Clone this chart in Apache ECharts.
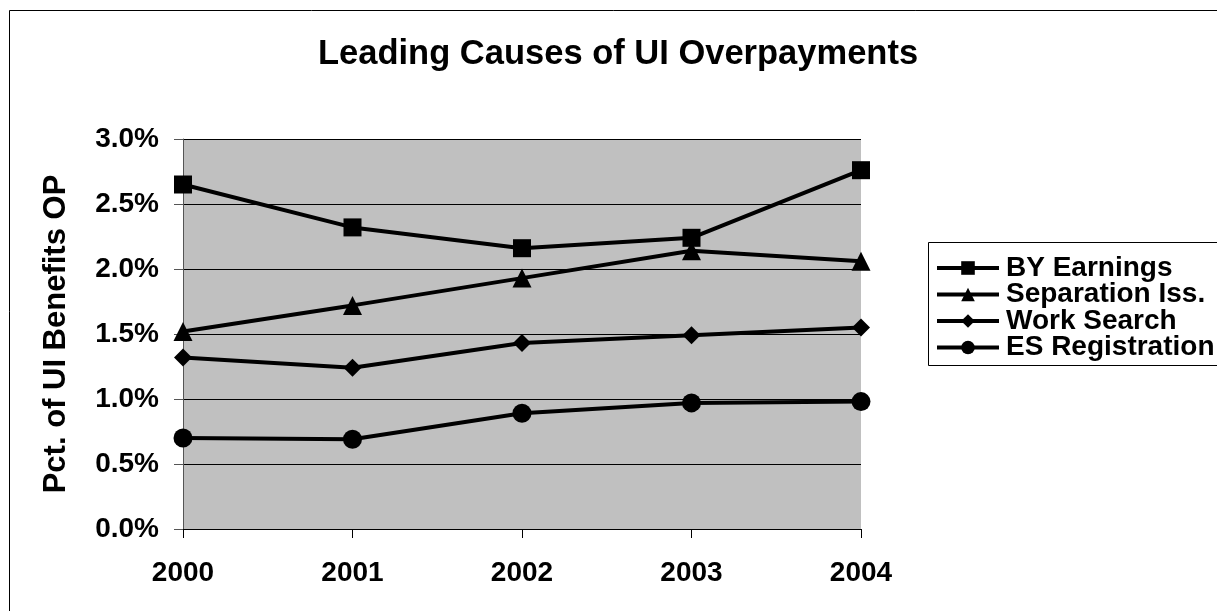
<!DOCTYPE html>
<html>
<head>
<meta charset="utf-8">
<script src="https://cdn.jsdelivr.net/npm/echarts@6/dist/echarts.min.js"></script>
<style>
html,body{margin:0;padding:0;background:#fff;}
#c{width:1217px;height:611px;}
</style>
</head>
<body>
<div id="c"></div>
<script>
var years = ['2000','2001','2002','2003','2004'];
var byEarnings = [2.65, 2.32, 2.16, 2.24, 2.76];
var separationIss = [1.52, 1.72, 1.93, 2.14, 2.06];
var workSearch = [1.32, 1.24, 1.43, 1.49, 1.55];
var esRegistration = [0.70, 0.69, 0.89, 0.97, 0.98];
var seriesNames = ['BY Earnings','Separation Iss.','Work Search','ES Registration'];
var yTicks = {min: 0, max: 3, interval: 0.5};

var FONT = 'Liberation Sans, Arial, sans-serif';
var chart = echarts.init(document.getElementById('c'));

function mk(name, data, symbol, size) {
  return {
    name: name, type: 'line', data: data,
    symbol: symbol, symbolSize: size, showSymbol: true,
    lineStyle: {color: '#000', width: 4},
    itemStyle: {color: '#000'},
    emphasis: {disabled: true},
    animation: false
  };
}

chart.setOption({
  animation: false,
  backgroundColor: '#fff',
  title: {
    text: 'Leading Causes of UI Overpayments',
    left: 318, top: 37,
    padding: 0,
    textStyle: {fontFamily: FONT, fontWeight: 'bold', fontSize: 34.5, color: '#000'}
  },
  graphic: [
    {type: 'rect', shape: {x: 9.5, y: 10.5, width: 1230, height: 640}, style: {fill: null, stroke: '#000', lineWidth: 1}, silent: true, z: -1},
    {type: 'rect', shape: {x: 928.5, y: 242.5, width: 320, height: 123}, style: {fill: '#fff', stroke: '#000', lineWidth: 1}, silent: true, z: 0}
  ],
  legend: {
    orient: 'vertical',
    left: 935, top: 254,
    padding: 0,
    itemWidth: 62, itemHeight: 17, itemGap: -1.5,
    data: seriesNames,
    lineStyle: {width: 4},
    textStyle: {fontFamily: FONT, fontWeight: 'bold', fontSize: 28, color: '#000', padding: [0, 0, 0, 2]},
    selectedMode: false,
    z: 5
  },
  grid: {left: 183, right: 356, top: 139, bottom: 82, show: true, backgroundColor: '#c0c0c0', borderWidth: 0},
  xAxis: {
    type: 'category', data: years, boundaryGap: false,
    axisLine: {lineStyle: {color: '#000', width: 1}},
    axisTick: {show: true, alignWithLabel: true, length: 9, lineStyle: {color: '#000'}},
    axisLabel: {fontFamily: FONT, fontWeight: 'bold', fontSize: 28, color: '#000', margin: 30},
    splitLine: {show: false}
  },
  yAxis: {
    type: 'value', min: yTicks.min, max: yTicks.max, interval: yTicks.interval,
    name: 'Pct. of UI Benefits OP', nameLocation: 'middle', nameGap: 111, nameRotate: 90,
    nameTextStyle: {fontFamily: FONT, fontWeight: 'bold', fontSize: 31, color: '#000'},
    axisLine: {show: true, lineStyle: {color: '#555', width: 1}},
    axisTick: {show: true, length: 9, lineStyle: {color: '#555'}},
    axisLabel: {fontFamily: FONT, fontWeight: 'bold', fontSize: 28, color: '#000', margin: 24,
      formatter: function (v) { return v.toFixed(1) + '%'; }},
    splitLine: {show: true, lineStyle: {color: '#000', width: 1}}
  },
  series: [
    mk(seriesNames[0], byEarnings, 'rect', 18),
    mk(seriesNames[1], separationIss, 'triangle', 19),
    mk(seriesNames[2], workSearch, 'diamond', 18),
    mk(seriesNames[3], esRegistration, 'circle', 19)
  ]
});
</script>
</body>
</html>
